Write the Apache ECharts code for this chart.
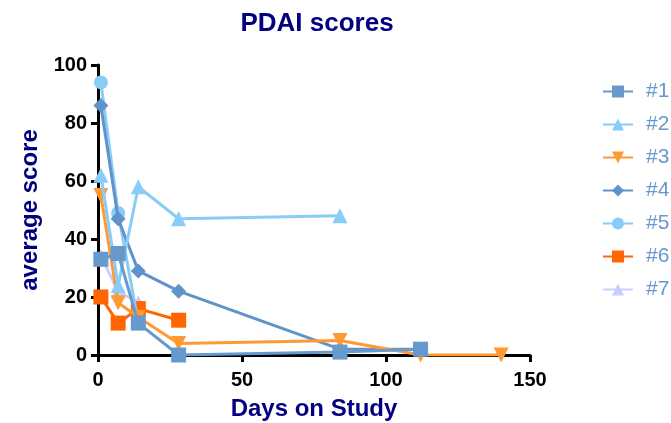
<!DOCTYPE html>
<html>
<head>
<meta charset="utf-8">
<script src="https://cdn.jsdelivr.net/npm/echarts@6/dist/echarts.min.js"></script>
<style>
html, body { margin: 0; padding: 0; background: #fff; }
#main { width: 671px; height: 423px; }
</style>
</head>
<body>
<div id="main"></div>
<script>
DAYS = [1, 7, 14, 28, 84, 112, 140];
NAMES = ['#1', '#2', '#3', '#4', '#5', '#6', '#7'];
S1 = [33, 35, 11, 0, 1, 2, null];
S2 = [62, 24, 58, 47, 48, null, null];
S3 = [55, 18, 13, 4, 5, 0, 0];
S4 = [86, 47, 29, 22, 2, 2, null];
S5 = [94, 49, 11, null, null, null, null];
S6 = [20, 11, 16, 12, null, null, null];
S7 = [34, 22, 18, null, null, null, null];
X_TICKS = [0, 50, 100, 150];
Y_TICKS = [0, 20, 40, 60, 80, 100];

var VALUES = [S1, S2, S3, S4, S5, S6, S7];
var COLORS = ['#6699CC', '#88CCF8', '#FF9933', '#5F93C9', '#88CCF8', '#FF6600', '#CCCCFF'];
var SYMBOLS = ['rect', 'triangle', 'triangle', 'diamond', 'circle', 'rect', 'triangle'];
var ROTATE = [0, 0, 180, 0, 0, 0, 0];
var SIZES = [15, 15, 15, 15, 14, 15, 15];
var FONT = '"Liberation Sans", Arial, sans-serif';

function pairs(vals) {
	var out = [];
	for (var i = 0; i < DAYS.length; i++) {
		if (vals[i] != null) out.push([DAYS[i], vals[i]]);
	}
	return out;
}

var series = [];
for (var i = 0; i < NAMES.length; i++) {
	series.push({
		name: NAMES[i],
		type: 'line',
		data: pairs(VALUES[i]),
		symbol: SYMBOLS[i],
		symbolRotate: ROTATE[i],
		symbolSize: SIZES[i],
		z: 10 - i,
		lineStyle: { color: COLORS[i], width: 3 },
		itemStyle: { color: COLORS[i] }
	});
}

var axisLine = { show: true, lineStyle: { color: '#000', width: 3 } };
var axisTick = { show: true, length: 7, lineStyle: { color: '#000', width: 3 } };

var myChart = echarts.init(document.getElementById('main'));
myChart.setOption({
	animation: false,
	title: {
		text: 'PDAI scores',
		left: 312,
		textAlign: 'center',
		top: 6,
		textStyle: { color: '#000080', fontSize: 26, fontWeight: 'bold', fontFamily: FONT }
	},
	legend: {
		orient: 'vertical',
		left: 597,
		top: 76,
		itemWidth: 30,
		itemHeight: 15,
		itemGap: 12,
		textStyle: { color: '#6699CC', fontSize: 21, fontFamily: FONT, padding: [0, 0, 0, 8] },
		data: NAMES
	},
	grid: { left: 98, right: 141, top: 65, bottom: 68, outerBoundsMode: 'none' },
	xAxis: {
		type: 'value',
		min: X_TICKS[0],
		max: X_TICKS[X_TICKS.length - 1],
		interval: 50,
		name: 'Days on Study',
		nameLocation: 'middle',
		nameGap: 42,
		nameTextStyle: { color: '#000080', fontSize: 24, fontWeight: 'bold', fontFamily: FONT },
		axisLine: axisLine,
		axisTick: axisTick,
		axisLabel: { color: '#000', fontSize: 20, fontWeight: 'bold', fontFamily: FONT, margin: 15 },
		splitLine: { show: false }
	},
	yAxis: {
		type: 'value',
		min: Y_TICKS[0],
		max: Y_TICKS[Y_TICKS.length - 1],
		interval: 20,
		name: 'average score',
		nameLocation: 'middle',
		nameGap: 56,
		nameTextStyle: { color: '#000080', fontSize: 24, fontWeight: 'bold', fontFamily: FONT },
		axisLine: axisLine,
		axisTick: axisTick,
		axisLabel: { color: '#000', fontSize: 20, fontWeight: 'bold', fontFamily: FONT, margin: 11 },
		splitLine: { show: false }
	},
	series: series
});
</script>
</body>
</html>
